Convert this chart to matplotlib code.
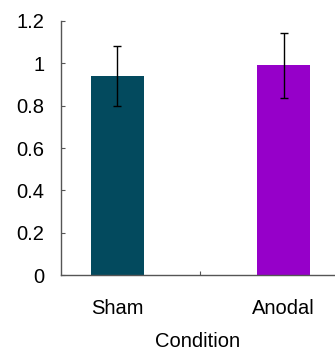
import numpy as np
import matplotlib.pyplot as plt

# data
conditions = ['Sham', 'Anodal']
means = [0.94, 0.99]
errors = [0.14, 0.155]
colors = ['#034a5e', '#9600c9']

plt.rcParams['font.family'] = ['Liberation Sans', 'DejaVu Sans']

fig = plt.figure(figsize=(3.35, 3.5), dpi=100)
ax = fig.add_axes([0.182, 0.214, 0.818, 0.726])

x = np.arange(len(conditions))
ax.bar(x, means, width=0.32, color=colors, yerr=errors,
       error_kw=dict(ecolor='black', elinewidth=1, capsize=3, capthick=1))

ax.set_xlim(-0.34, 1.31)
ax.set_ylim(0, 1.2)
ax.set_yticks([0, 0.2, 0.4, 0.6, 0.8, 1.0, 1.2])
ax.set_yticklabels(['0', '0.2', '0.4', '0.6', '0.8', '1', '1.2'])

# category labels without ticks, one tick between categories
ax.set_xticks([0.5])
ax.set_xticklabels([''])
ax.set_xticks(x, minor=True)
ax.set_xticklabels(conditions, minor=True)
ax.tick_params(axis='x', which='minor', length=0, pad=17, labelsize=14.5)
ax.tick_params(axis='x', which='major', direction='in', length=3, color='#555555')
ax.tick_params(axis='y', direction='in', length=3, color='#555555', pad=12, labelsize=14.5)

ax.set_xlabel('Condition', fontsize=14.5, labelpad=10)

for side in ['top', 'right']:
    ax.spines[side].set_visible(False)
for side in ['left', 'bottom']:
    ax.spines[side].set_color('#555555')
    ax.spines[side].set_linewidth(1)

fig.savefig('out.png', dpi=100)
